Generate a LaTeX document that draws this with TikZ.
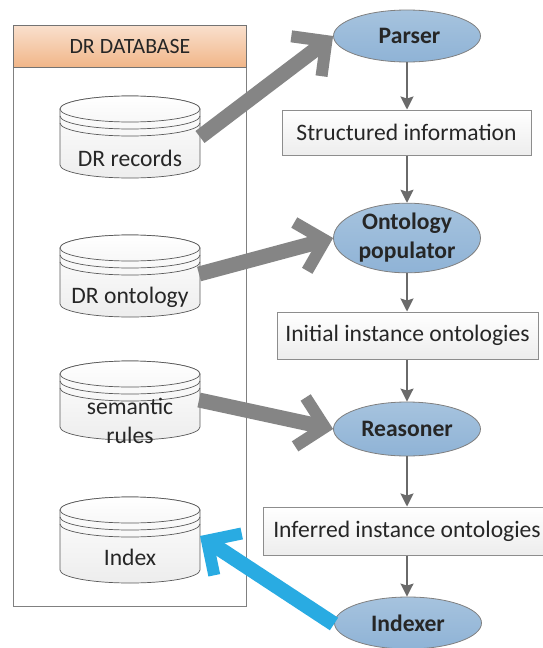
\documentclass[tikz,border=0pt]{standalone}
\usepackage{fontspec}
\setmainfont{Carlito}
\usetikzlibrary{arrows.meta,shapes.geometric,calc}
\definecolor{edgegray}{HTML}{808080}
\definecolor{thin}{HTML}{6A6A6A}
\definecolor{fat}{HTML}{858585}
\definecolor{bluefat}{HTML}{29ABE2}
\definecolor{ptop}{HTML}{A6C3DE}
\definecolor{pbot}{HTML}{8FB3D6}
\definecolor{htop}{HTML}{F9E0CD}
\definecolor{hbot}{HTML}{F1B688}
\tikzset{
  x=1pt,y=-1pt,
  txt/.style={font=\fontsize{23.6}{29}\selectfont,text=black!85,inner sep=0pt},
  proc/.style={ellipse,draw=edgegray,line width=.8pt,top color=ptop,bottom color=pbot,minimum width=147pt,minimum height=52pt,inner sep=0pt,align=center,font=\fontsize{23.6}{29}\selectfont\bfseries,text=black!85},
  infobox/.style={rectangle,draw=edgegray!90,line width=1pt,top color=white,bottom color=black!7,inner sep=0pt,font=\fontsize{23.6}{29}\selectfont,text=black!85},
  flow/.style={draw=thin,line width=1.6pt,-{Stealth[length=13pt,width=13pt,inset=2pt]}},
  fatgray/.style={draw=fat,line width=15pt,-{Straight Barb[length=25pt,width=50pt,line width=12pt]}},
  fatblue/.style={draw=bluefat,line width=15pt,-{Straight Barb[length=25pt,width=50pt,line width=12pt]}},
  cylpart/.style={draw=black!65,line width=.7pt},
}
\newcommand{\cyl}[3]{% xc, ytop, ybot
  \path[cylpart,top color=white,bottom color=black!7]
    (#1-70,#2+13) -- (#1-70,#3-13)
    arc[start angle=180,end angle=360,x radius=70,y radius=-13]
    -- (#1+70,#2+13)
    arc[start angle=0,end angle=180,x radius=70,y radius=-13] -- cycle;
  \path[cylpart,top color=white,bottom color=black!3]
    (#1,#2+13) ellipse[x radius=70,y radius=13];
  \draw[cylpart] (#1-70,#2+20) arc[start angle=180,end angle=360,x radius=70,y radius=-13];
  \draw[cylpart] (#1-70,#2+27) arc[start angle=180,end angle=360,x radius=70,y radius=-13];
}
\begin{document}
\begin{tikzpicture}
\path[use as bounding box] (0,0) rectangle (542,648);
\fill[white] (0,0) rectangle (542,648);
% database
\node[rectangle,draw=edgegray,line width=.8pt,fill=white,minimum width=233pt,minimum height=581pt,inner sep=0pt,anchor=north west] (db) at (13,25) {};
\node[rectangle,draw=black!55,line width=.8pt,top color=htop,bottom color=hbot,minimum width=233pt,minimum height=42pt,inner sep=0pt,anchor=north west,font=\fontsize{21.8}{24}\selectfont,text=black!85] (dbh) at (13,25) {DR DATABASE};
% cylinders
\cyl{130}{96}{178}
\node[txt] (rec) at (130,158) {DR records};
\cyl{130}{235}{317}
\node[txt] (ont) at (130,297) {DR ontology};
\cyl{130}{361}{440}
\node[txt,align=center] (sem) at (130,421) {semantic\\rules};
\cyl{130}{497}{583}
\node[txt] (idx) at (130,557) {Index};
% processes
\node[proc] (parser) at (407,36) {\hspace*{5pt}Parser};
\node[proc,minimum height=68pt] (pop) at (407,238) {Ontology\\populator};
\node[proc,minimum height=54pt] (reas) at (407,429) {Reasoner};
\node[proc] (indexer) at (408,623) {Indexer};
% boxes
\node[infobox,minimum width=249pt,minimum height=45pt] (si) at (406.5,132.5) {Structured information};
\node[infobox,minimum width=261pt,minimum height=47pt] (ii) at (407.5,335.5) {Initial instance ontologies};
\node[infobox,minimum width=280pt,minimum height=48pt,anchor=west] (fi) at (263,531) {\hspace*{7pt}Inferred instance ontologies};
% flow
\draw[flow] (parser.south) -- (parser.south |- si.north);
\draw[flow] (si.south -| parser.south) -- (parser.south |- pop.north);
\draw[flow] (pop.south) -- (pop.south |- ii.north);
\draw[flow] (ii.south -| pop.south) -- (pop.south |- reas.north);
\draw[flow] (reas.south) -- (reas.south |- fi.north);
\draw[flow] (fi.south -| reas.south) -- (reas.south |- indexer.north);
% fat arrows
\coordinate (s1) at (200,137);
\coordinate (s2) at (199,274);
\coordinate (s3) at (199,400);
\coordinate (s4) at (334,624);
\coordinate (t4) at (200,536);
\draw[fatgray] (s1) -- (parser.west);
\draw[fatgray] (s2) -- (pop.west);
\draw[fatgray] (s3) -- (reas.west);
\draw[fatblue] (s4) -- (t4);
\end{tikzpicture}
\end{document}
